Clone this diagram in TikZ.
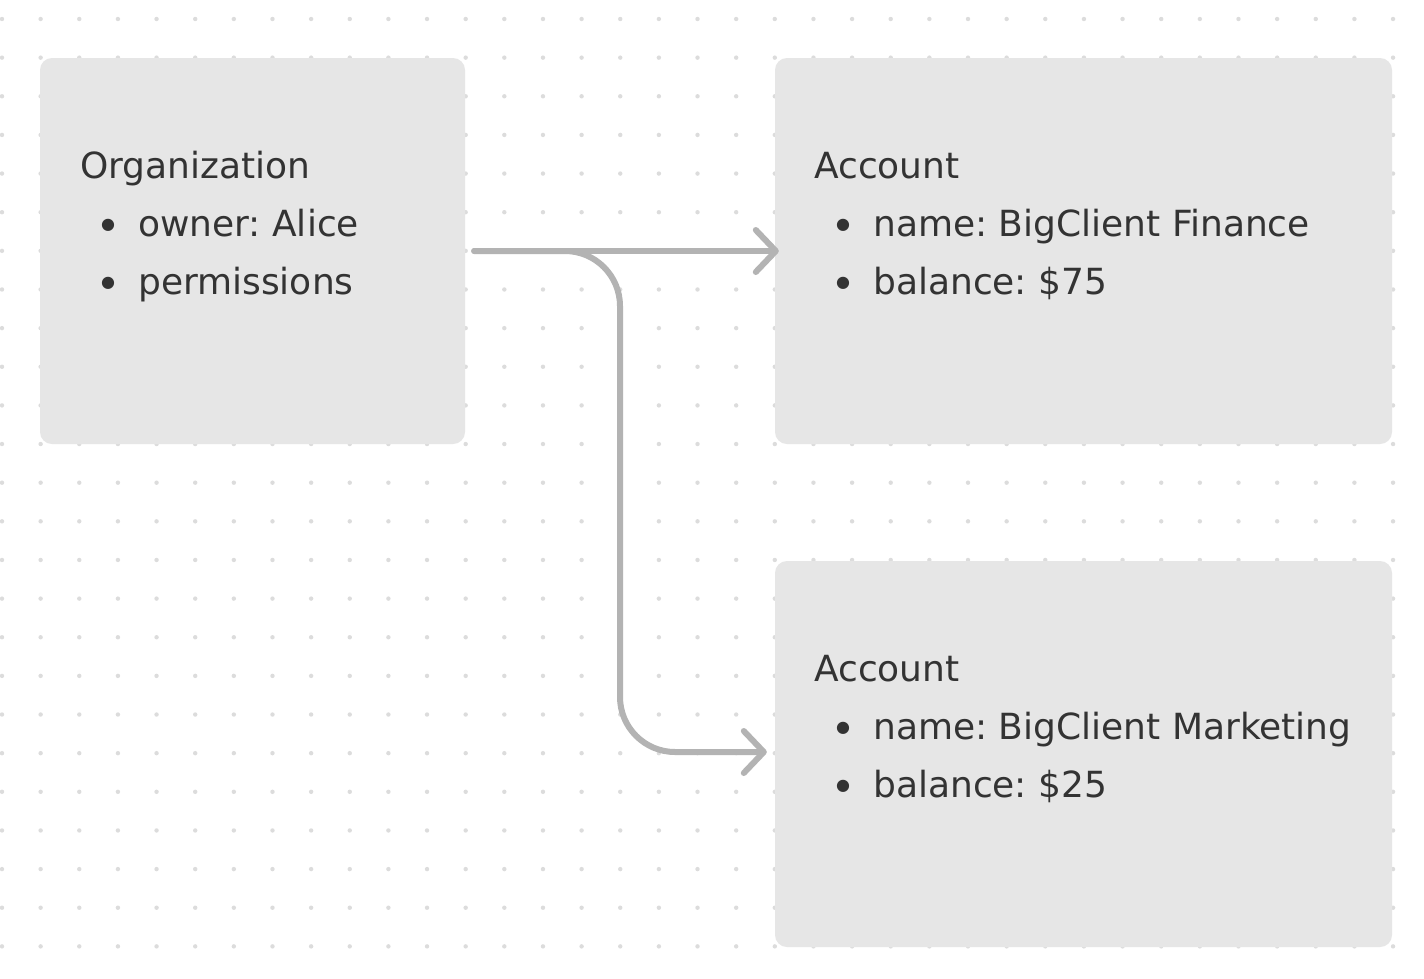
\documentclass[tikz,border=0pt]{standalone}
\usepackage{fontspec}
\setmainfont{DejaVu Sans}
\usetikzlibrary{arrows.meta}
\definecolor{boxfill}{HTML}{E6E6E6}
\definecolor{dotcol}{HTML}{DCDCDC}
\definecolor{conncol}{HTML}{B3B3B3}
\definecolor{txtcol}{HTML}{333333}
\tikzset{
  card/.style={draw=none, fill=boxfill, rounded corners=12pt, minimum width=#1, inner sep=0pt},
  txt/.style={anchor=base west, inner sep=0pt, text=txtcol, font=\fontsize{36}{42}\selectfont\frenchspacing},
  bul/.style={anchor=center, inner sep=0pt, text=txtcol, font=\fontsize{16}{18}\selectfont},
  conn/.style={draw=conncol, line width=6pt, line cap=round, line join=round,
    -{Straight Barb[length=20pt,width=42pt,round]}},
}
\begin{document}
\begin{tikzpicture}[x=1pt,y=-1pt]
\useasboundingbox (0,0) rectangle (1424,978);
\fill[white] (0,0) rectangle (1424,978);
\foreach \i in {0,...,36}{
  \foreach \j in {0,...,24}{
    \fill[dotcol] ({2+\i*38.64},{19+\j*38.64}) circle (2.2pt);
  }
}
% boxes
\node[card=425pt, minimum height=386pt] (org) at (252.5,251) {};
\node[card=617pt, minimum height=386pt] (acc1) at (1083.5,251) {};
\node[card=617pt, minimum height=386pt] (acc2) at (1083.5,754) {};
% organization text
\node[txt] (orgT) at (80,178) {Organization};
\node[bul] (orgB1) at (108,225) {●};
\node[txt] (orgI1) at (138,236) {owner: Alice};
\node[bul] (orgB2) at (108,283) {●};
\node[txt] (orgI2) at (138,294) {permissions};
% account 1
\node[txt] (a1T) at (814,178) {Account};
\node[bul] (a1B1) at (843,225) {●};
\node[txt] (a1I1) at (873,236) {name: BigClient Finance};
\node[bul] (a1B2) at (843,283) {●};
\node[txt] (a1I2) at (873,294) {balance: \$75};
% account 2
\node[txt] (a2T) at (814,681) {Account};
\node[bul] (a2B1) at (843,728) {●};
\node[txt] (a2I1) at (873,739) {name: BigClient Marketing};
\node[bul] (a2B2) at (843,786) {●};
\node[txt] (a2I2) at (873,797) {balance: \$25};
% connectors
\coordinate (start) at ([xshift=9pt]org.east);
\coordinate (end1) at ([xshift=4pt]acc1.west);
\coordinate (end2) at ([xshift=-8pt,yshift=2pt]acc2.west);
\draw[conn] (start) -- (end1);
\draw[conn, rounded corners=55pt] (start) -- (620,251) -- (620,752) -- (end2);
\end{tikzpicture}
\end{document}
